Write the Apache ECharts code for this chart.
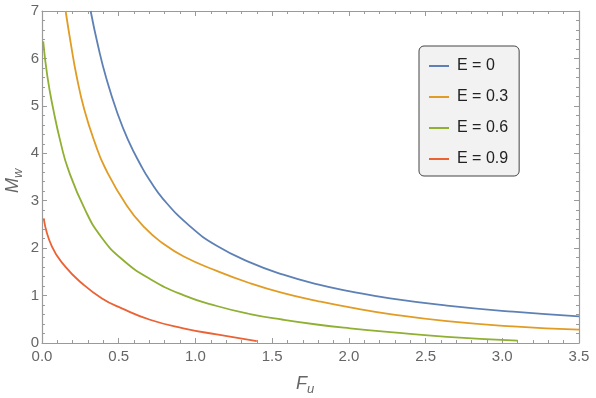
<!DOCTYPE html>
<html>
<head>
<meta charset="utf-8">
<script src="https://cdn.jsdelivr.net/npm/echarts@6/dist/echarts.min.js"></script>
<style>
  html, body { margin: 0; padding: 0; background: #fff; }
  #chart_box { width: 596px; height: 398px; }
</style>
</head>
<body>
<div id="chart_box"></div>
<script>
// 读图得到的数据 (F_u, M_w)
var seriesNames = ['E = 0', 'E = 0.3', 'E = 0.6', 'E = 0.9'];
var seriesColors = ['#5e81b5', '#e19c24', '#8fb032', '#eb6235'];

var fE0 = [0.317, 0.367, 0.42, 0.49, 0.56, 0.65, 0.70, 0.791, 0.965, 1.139, 1.356, 1.573, 1.79, 2.008, 2.269, 2.64, 3.07, 3.5];
var mE0 = [7.0, 6.24, 5.57, 4.86, 4.29, 3.71, 3.44, 3.03, 2.46, 2.05, 1.70, 1.44, 1.24, 1.09, 0.94, 0.79, 0.66, 0.56];

var fE03 = [0.154, 0.187, 0.226, 0.276, 0.345, 0.41, 0.552, 0.673, 0.78, 0.921, 1.139, 1.356, 1.573, 1.79, 2.008, 2.269, 2.64, 3.07, 3.5];
var mE03 = [7.0, 6.33, 5.62, 4.92, 4.22, 3.70, 2.90, 2.42, 2.12, 1.83, 1.52, 1.26, 1.05, 0.89, 0.75, 0.61, 0.46, 0.35, 0.28];

var fE06 = [0.008, 0.035, 0.074, 0.122, 0.172, 0.282, 0.385, 0.52, 0.704, 0.921, 1.139, 1.356, 1.573, 1.79, 2.008, 2.269, 2.64, 3.10];
var mE06 = [6.36, 5.62, 4.92, 4.22, 3.65, 2.80, 2.24, 1.77, 1.35, 1.01, 0.78, 0.61, 0.49, 0.39, 0.31, 0.23, 0.13, 0.05];

var fE09 = [0.011, 0.065, 0.152, 0.26, 0.391, 0.52, 0.704, 0.921, 1.139, 1.40];
var mE09 = [2.63, 2.03, 1.61, 1.26, 0.94, 0.73, 0.49, 0.31, 0.18, 0.04];

var xTicks = ['0.0', '0.5', '1.0', '1.5', '2.0', '2.5', '3.0', '3.5'];

function pairs(xs, ys) {
    var out = [];
    for (var i = 0; i < xs.length; i++) out.push([xs[i], ys[i]]);
    return out;
}

var allF = [fE0, fE03, fE06, fE09];
var allM = [mE0, mE03, mE06, mE09];

var frameColor = '#9a9a9a';
var labelColor = '#666';

function frameAxis(extra) {
    var base = {
        type: 'value',
        axisLine: { show: true, onZero: false, lineStyle: { color: frameColor, width: 1.2 } },
        axisTick: { show: true, inside: true, length: 5, lineStyle: { color: frameColor } },
        minorTick: { show: true, splitNumber: 5, length: 3, lineStyle: { color: frameColor } },
        splitLine: { show: false },
        minorSplitLine: { show: false }
    };
    for (var k in extra) base[k] = extra[k];
    return base;
}

var mycharts = echarts.init(document.getElementById('chart_box'));

var seriesList = [];
for (var s = 0; s < seriesNames.length; s++) {
    seriesList.push({
        name: seriesNames[s],
        type: 'line',
        xAxisIndex: 0,
        yAxisIndex: 0,
        data: pairs(allF[s], allM[s]),
        smooth: 0.5,
        symbol: 'none',
        color: seriesColors[s],
        lineStyle: { width: 1.8, color: seriesColors[s] }
    });
}

var optionObj = {
    animation: false,
    grid: { left: 42, right: 17, top: 11, bottom: 55 },
    xAxis: [
        frameAxis({
            position: 'bottom', min: 0, max: 3.5, interval: 0.5,
            axisLabel: {
                color: labelColor, fontSize: 15, margin: 6, fontFamily: 'Liberation Sans',
                formatter: function (v) { return xTicks[Math.round(v / 0.5)]; }
            }
        }),
        frameAxis({ position: 'top', min: 0, max: 3.5, interval: 0.5, axisLabel: { show: false } })
    ],
    yAxis: [
        frameAxis({
            position: 'left', min: 0, max: 7, interval: 1,
            axisLabel: { color: labelColor, fontSize: 15, margin: 3, fontFamily: 'Liberation Sans' }
        }),
        frameAxis({ position: 'right', min: 0, max: 7, interval: 1, axisLabel: { show: false } })
    ],
    legend: {
        orient: 'vertical',
        left: 419,
        top: 46,
        padding: [10, 11, 7, 10],
        backgroundColor: '#f2f2f2',
        borderColor: '#444',
        borderWidth: 1,
        borderRadius: 5,
        icon: 'rect',
        itemWidth: 20,
        itemHeight: 2,
        itemGap: 11,
        data: seriesNames,
        textStyle: { color: '#222', fontSize: 16, lineHeight: 20, fontFamily: 'Liberation Sans', padding: [0, 0, 0, 3] }
    },
    // 坐标轴标题
    graphic: [
        {
            type: 'group', x: 296, y: 384,
            children: [
                { type: 'text', x: 0, y: 0, style: { text: 'F', font: 'italic 18px "Liberation Sans"', fill: labelColor, textAlign: 'left', textVerticalAlign: 'middle' } },
                { type: 'text', x: 11, y: 5, style: { text: 'u', font: 'italic 13px "Liberation Sans"', fill: labelColor, textAlign: 'left', textVerticalAlign: 'middle' } }
            ]
        },
        {
            type: 'group', x: 13, y: 193, rotation: Math.PI / 2,
            children: [
                { type: 'text', x: 0, y: 0, style: { text: 'M', font: 'italic 18px "Liberation Sans"', fill: labelColor, textAlign: 'left', textVerticalAlign: 'middle' } },
                { type: 'text', x: 15, y: 5, style: { text: 'w', font: 'italic 13px "Liberation Sans"', fill: labelColor, textAlign: 'left', textVerticalAlign: 'middle' } }
            ]
        }
    ],
    series: seriesList
};

mycharts.setOption(optionObj);
</script>
</body>
</html>
